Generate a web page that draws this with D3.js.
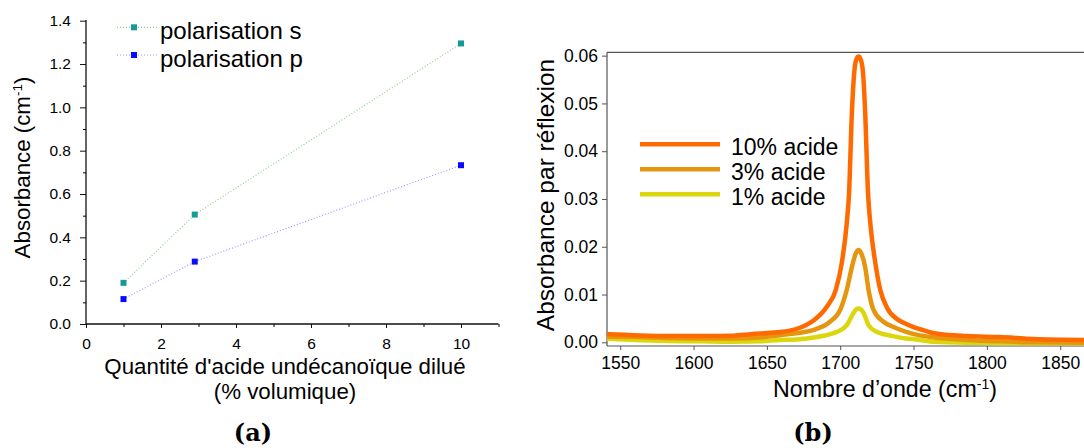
<!DOCTYPE html>
<html>
<head>
<meta charset="utf-8">
<script src="https://cdn.jsdelivr.net/npm/d3@7"></script>
<style>
  body { margin: 0; background: #fff; }
  svg { display: block; font-family: "Liberation Sans", Arial, sans-serif; }
  .tick text { fill: #000; }
</style>
</head>
<body>
<svg width="1084" height="448"></svg>
<script>
// ---- panel (a) data ----
let concentrations = [1, 2.9, 10];
let polS = [0.19, 0.505, 1.295];
let polP = [0.115, 0.288, 0.733];
let aXTicks = [0, 2, 4, 6, 8, 10];
let aXMinor = [1, 3, 5, 7, 9, 11];
let aYTicks = [0, 0.2, 0.4, 0.6, 0.8, 1.0, 1.2, 1.4];
let aYMinor = [0.1, 0.3, 0.5, 0.7, 0.9, 1.1, 1.3];

// ---- panel (b) data: [wavenumber, absorbance] ----
let acid10 = [[1536,0.0017],[1543,0.0017],[1559,0.0015],[1582,0.0013],[1605,0.0013],[1627,0.0014],
  [1639,0.0017],[1657,0.0021],[1665,0.0024],[1673,0.0031],[1682,0.0046],[1691,0.0075],[1697,0.011],
  [1701,0.0165],[1704.5,0.025],[1706,0.031],[1708,0.0483],[1709.6,0.0566],[1711,0.0592],[1712.5,0.0598],
  [1714,0.0592],[1715.5,0.0566],[1717,0.0483],[1719,0.031],[1720.5,0.025],[1724,0.0165],[1727.3,0.011],
  [1732,0.0072],[1739,0.0048],[1744,0.004],[1750,0.0032],[1757,0.0025],[1764,0.0019],[1786,0.0013],
  [1809,0.0011],[1832,0.0007],[1870,0.0005]];
let acid3 = [[1536,0.0012],[1560,0.0011],[1582,0.0009],[1605,0.0008],[1627,0.0008],[1645,0.001],
  [1659,0.0015],[1670,0.0019],[1682,0.0026],[1693,0.0043],[1700,0.0068],[1704.5,0.011],[1708,0.0158],
  [1710.5,0.0185],[1712.5,0.0193],[1714.5,0.0185],[1717,0.0158],[1719.3,0.011],[1722.7,0.0068],
  [1729.5,0.0043],[1738,0.003],[1745,0.0022],[1752,0.0016],[1764,0.001],[1786,0.0005],[1809,0.0002],
  [1832,0],[1870,-0.0001]];
let acid1 = [[1536,0.0008],[1560,0.0005],[1582,0.0003],[1605,0.0002],[1627,0.0001],[1645,0.0002],
  [1659,0.0005],[1670,0.0006],[1682,0.001],[1692,0.0016],[1698,0.0022],[1704.5,0.0036],[1709,0.0061],
  [1711,0.0069],[1712.5,0.0071],[1714,0.0069],[1716,0.0061],[1719.3,0.0036],[1724.8,0.0022],
  [1736,0.0013],[1745,0.0008],[1752,0.0006],[1764,0.0001],[1786,-0.0001],[1830,-0.0002],[1870,-0.0002]];
let spectraNames = ["10% acide", "3% acide", "1% acide"];
let spectraColors = ["#ff6a00", "#e6960e", "#dcd70c"];
let bXTicks = [1550, 1600, 1650, 1700, 1750, 1800, 1850];
let bYTicks = [0, 0.01, 0.02, 0.03, 0.04, 0.05, 0.06];

var svg = d3.select("svg");
var FONT = "'Liberation Sans', Arial, sans-serif";

// ================= panel (a) =================
var xa = d3.scaleLinear().domain([0, 11]).range([86, 498.5]);
var ya = d3.scaleLinear().domain([0, 1.4]).range([324, 20.7]);
var ga = svg.append("g");

ga.append("g")
  .attr("transform", "translate(0,324)")
  .call(d3.axisBottom(xa).tickValues(aXTicks).tickSize(4).tickPadding(10).tickFormat(d3.format("d")))
  .attr("font-family", FONT).attr("font-size", 15.5)
  .call(g => g.selectAll("line").attr("stroke", "#111"))
  .call(g => g.select(".domain").attr("d", "M86,0H498.5").attr("stroke", "#111").attr("stroke-width", 1.3));
ga.append("g")
  .attr("transform", "translate(0,324)")
  .call(d3.axisBottom(xa).tickValues(aXMinor).tickSize(3).tickFormat(""))
  .call(g => g.select(".domain").remove());

ga.append("g")
  .attr("transform", "translate(86,0)")
  .call(d3.axisLeft(ya).tickValues(aYTicks).tickSize(6).tickPadding(9).tickFormat(d3.format(".1f")))
  .attr("font-family", FONT).attr("font-size", 15.5)
  .call(g => g.selectAll("line").attr("stroke", "#111"))
  .call(g => g.select(".domain").attr("d", "M0,324V20").attr("stroke", "#111").attr("stroke-width", 1.3));
ga.append("g")
  .attr("transform", "translate(86,0)")
  .call(d3.axisLeft(ya).tickValues(aYMinor).tickSize(3).tickFormat(""))
  .call(g => g.select(".domain").remove());

var seriesA = [
  {name: "polarisation s", vals: polS, marker: "#139c96", line: "#8fd08f"},
  {name: "polarisation p", vals: polP, marker: "#0a0aff", line: "#9c9cff"}
];
var lineA = d3.line().x(d => xa(d[0])).y(d => ya(d[1]));
seriesA.forEach(function(s) {
  var pts = concentrations.map((c, i) => [c, s.vals[i]]);
  ga.append("path")
    .datum(pts)
    .attr("fill", "none")
    .attr("stroke", s.line)
    .attr("stroke-width", 1.2)
    .attr("stroke-dasharray", "1,2")
    .attr("d", lineA);
  ga.selectAll(null)
    .data(pts)
    .enter().append("rect")
    .attr("x", d => xa(d[0]) - 3)
    .attr("y", d => ya(d[1]) - 3)
    .attr("width", 6)
    .attr("height", 6)
    .attr("fill", s.marker);
});

// legend (a)
var legA = ga.append("g");
seriesA.forEach(function(s, i) {
  var ly = 27.3 + i * 27.7;
  legA.append("line")
    .attr("x1", 117).attr("x2", 157).attr("y1", ly).attr("y2", ly)
    .attr("stroke", s.line).attr("stroke-width", 1.2).attr("stroke-dasharray", "1,2");
  legA.append("rect")
    .attr("x", 131).attr("y", ly - 3).attr("width", 6).attr("height", 6).attr("fill", s.marker);
  legA.append("text")
    .attr("x", 160).attr("y", ly + 12)
    .attr("font-size", 24)
    .text(s.name);
});

// titles (a)
ga.append("text")
  .attr("x", 285).attr("y", 374)
  .attr("text-anchor", "middle").attr("font-size", 22.3)
  .text("Quantité d'acide undécanoïque dilué");
ga.append("text")
  .attr("x", 285).attr("y", 399)
  .attr("text-anchor", "middle").attr("font-size", 22.3)
  .text("(% volumique)");
var yta = ga.append("text")
  .attr("transform", "translate(30,167.5) rotate(-90)")
  .attr("text-anchor", "middle").attr("font-size", 22.3);
yta.append("tspan").text("Absorbance (cm");
yta.append("tspan").attr("font-size", 13.5).attr("dy", -8).text("-1");
yta.append("tspan").attr("dy", 8).text(")");

svg.append("text")
  .attr("x", 253).attr("y", 441)
  .attr("text-anchor", "middle")
  .attr("font-family", "'DejaVu Serif', serif").attr("font-weight", "bold").attr("font-size", 24)
  .text("(a)");

// ================= panel (b) =================
var xb = d3.scaleLinear().domain([1541, 1870]).range([607, 607 + 329 * 1.4667]);
var yb = d3.scaleLinear().domain([-0.00077, 0.0607]).range([346, 52.3]);
var gb = svg.append("g");

gb.append("defs").append("clipPath").attr("id", "clipb")
  .append("rect").attr("x", 607).attr("y", 52).attr("width", 480).attr("height", 294);

// top frame line
gb.append("line")
  .attr("x1", 607).attr("x2", 1084).attr("y1", 52.3).attr("y2", 52.3)
  .attr("stroke", "#555").attr("stroke-width", 1.2);

gb.append("g")
  .attr("transform", "translate(0,346)")
  .call(d3.axisBottom(xb).tickValues(bXTicks).tickSize(4).tickPadding(7).tickFormat(d3.format("d")))
  .attr("font-family", FONT).attr("font-size", 17.5)
  .call(g => g.selectAll("line").attr("stroke", "#555"))
  .call(g => g.select(".domain").attr("d", "M607,0H1084").attr("stroke", "#555").attr("stroke-width", 1.2));

gb.append("g")
  .attr("transform", "translate(607,0)")
  .call(d3.axisLeft(yb).tickValues(bYTicks).tickSize(5).tickPadding(4).tickFormat(d3.format(".2f")))
  .attr("font-family", FONT).attr("font-size", 17.5)
  .call(g => g.selectAll("line").attr("stroke", "#555"))
  .call(g => g.select(".domain").attr("d", "M0,52.3V346").attr("stroke", "#555").attr("stroke-width", 1.2));

var lineB = d3.line()
  .x(d => xb(d[0]))
  .y(d => yb(d[1]))
  .curve(d3.curveMonotoneX);

var spectra = [acid1, acid3, acid10];
var spectraCol = [spectraColors[2], spectraColors[1], spectraColors[0]];
spectra.forEach(function(sp, i) {
  gb.append("path")
    .datum(sp)
    .attr("clip-path", "url(#clipb)")
    .attr("fill", "none")
    .attr("stroke", spectraCol[i])
    .attr("stroke-width", 4.5)
    .attr("stroke-linejoin", "round")
    .attr("d", lineB);
});

// legend (b)
spectraNames.forEach(function(n, i) {
  var ly = 144.3 + i * 25;
  gb.append("line")
    .attr("x1", 640).attr("x2", 720).attr("y1", ly).attr("y2", ly)
    .attr("stroke", spectraColors[i]).attr("stroke-width", 4.5);
  gb.append("text")
    .attr("x", 731).attr("y", ly + 10.5)
    .attr("font-size", 23)
    .text(n);
});

// titles (b)
var xtb = gb.append("text")
  .attr("x", 885).attr("y", 397)
  .attr("text-anchor", "middle").attr("font-size", 23.2);
xtb.append("tspan").text("Nombre d’onde (cm");
xtb.append("tspan").attr("font-size", 14).attr("dy", -8).text("-1");
xtb.append("tspan").attr("dy", 8).text(")");

gb.append("text")
  .attr("transform", "translate(554,195) rotate(-90)")
  .attr("text-anchor", "middle").attr("font-size", 24.5)
  .text("Absorbance par réflexion");

svg.append("text")
  .attr("x", 813).attr("y", 441)
  .attr("text-anchor", "middle")
  .attr("font-family", "'DejaVu Serif', serif").attr("font-weight", "bold").attr("font-size", 24)
  .text("(b)");
</script>
</body>
</html>
